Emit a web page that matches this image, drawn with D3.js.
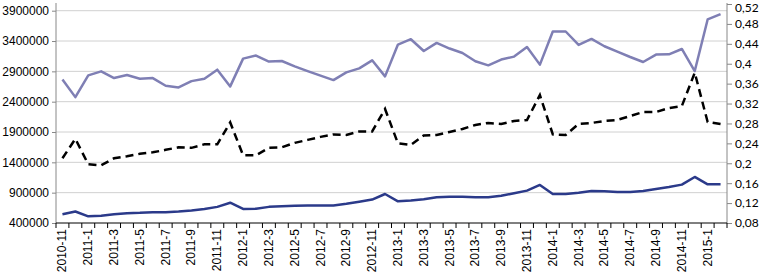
<!DOCTYPE html>
<html>
<head>
<meta charset="utf-8">
<script src="https://cdn.jsdelivr.net/npm/d3@7"></script>
<style>
  body { margin: 0; background: #fff; }
  .axis text { font-family: "Liberation Sans", Arial, sans-serif; font-size: 12px; fill: #000; }
  .axis-right text { font-family: Lato, "Open Sans", sans-serif; font-size: 12px; fill: #000; }
</style>
</head>
<body>
<div id="chart"></div>
<script>
// months 2010-11 .. 2015-2
const months = [];
for (let y = 2010, m = 11; y < 2015 || (y === 2015 && m <= 2); ) {
    months.push(y + "-" + m);
    m++;
    if (m > 12) { m = 1; y++; }
}

// light purple line (left axis)
const purpleValues = [2767000, 2475000, 2834000, 2900000, 2789000, 2839000, 2779000, 2789000, 2663000, 2635000,
    2739000, 2779000, 2928000, 2652000, 3110000, 3160000, 3061000, 3071000, 2983000, 2905000,
    2829000, 2756000, 2883000, 2950000, 3082000, 2817000, 3342000, 3430000, 3236000, 3369000,
    3276000, 3203000, 3066000, 2999000, 3094000, 3143000, 3302000, 3011000, 3557000, 3557000,
    3335000, 3435000, 3314000, 3226000, 3137000, 3054000, 3176000, 3181000, 3269000, 2905000,
    3756000, 3844000];

// dark blue line (left axis)
const blueValues = [545000, 590000, 510000, 521000, 545000, 562000, 567000, 579000, 579000, 590000,
    607000, 631000, 666000, 734000, 631000, 636000, 666000, 676000, 683000, 688000,
    688000, 688000, 717000, 752000, 786000, 878000, 757000, 769000, 791000, 826000,
    831000, 831000, 826000, 826000, 848000, 890000, 934000, 1028000, 878000, 878000,
    900000, 929000, 924000, 912000, 912000, 929000, 959000, 993000, 1033000, 1159000,
    1038000, 1038000];

// black dashed line (right axis)
const ratioValues = [0.210, 0.249, 0.198, 0.196, 0.210, 0.214, 0.219, 0.222, 0.227, 0.232,
    0.231, 0.238, 0.238, 0.282, 0.216, 0.216, 0.231, 0.232, 0.241, 0.247,
    0.253, 0.258, 0.257, 0.264, 0.264, 0.309, 0.240, 0.237, 0.256, 0.257,
    0.263, 0.269, 0.277, 0.281, 0.279, 0.285, 0.287, 0.337, 0.258, 0.257,
    0.279, 0.281, 0.285, 0.287, 0.295, 0.303, 0.303, 0.311, 0.315, 0.382,
    0.283, 0.279];

const leftTicks = [400000, 900000, 1400000, 1900000, 2400000, 2900000, 3400000, 3900000];
const rightTicks = [0.08, 0.12, 0.16, 0.2, 0.24, 0.28, 0.32, 0.36, 0.4, 0.44, 0.48, 0.52];

const width = 759, height = 275;
const plotLeft = 56, plotRight = 727, plotTop = 3, plotBottom = 223;

const svg = d3.select("#chart").append("svg")
    .attr("width", width)
    .attr("height", height);

// scales
const x = d3.scaleBand().domain(months).range([plotLeft, plotRight]);
const yLeft = d3.scaleLinear().domain([400000, 3900000]).range([plotBottom, 10.7]);
const yRight = d3.scaleLinear().domain([0.08, 0.52]).range([plotBottom, 4]);

// gridlines
svg.append("g")
    .selectAll("line")
    .data(leftTicks.slice(1))
    .enter()
    .append("line")
    .attr("x1", plotLeft)
    .attr("x2", plotRight)
    .attr("y1", d => yLeft(d))
    .attr("y2", d => yLeft(d))
    .attr("stroke", "#d0d0d0")
    .attr("stroke-width", 1);

// left axis
const leftAxis = svg.append("g")
    .attr("class", "axis")
    .attr("transform", `translate(${plotLeft},0)`)
    .call(d3.axisLeft(yLeft).tickValues(leftTicks).tickSize(4).tickPadding(3).tickFormat(d3.format("d")));
leftAxis.select(".domain").attr("d", `M0,${plotTop}V${plotBottom}`).attr("stroke", "#888");
leftAxis.selectAll(".tick line").attr("stroke", "#888");

// right axis
const rightAxis = svg.append("g")
    .attr("class", "axis-right")
    .attr("transform", `translate(${plotRight},0)`)
    .call(d3.axisRight(yRight).tickValues(rightTicks).tickSize(5).tickPadding(3)
        .tickFormat(d => String(+d.toFixed(2)).replace(".", ",")));
rightAxis.select(".domain").attr("d", `M0,${plotTop}V${plotBottom}`).attr("stroke", "#888");
rightAxis.selectAll(".tick line").attr("stroke", "#888");
// keep the top label inside the window
rightAxis.selectAll(".tick text").filter(d => d === 0.52).attr("y", 4);

// bottom axis
const xAxis = svg.append("g")
    .attr("class", "axis")
    .attr("transform", `translate(0,${plotBottom})`);
xAxis.append("line")
    .attr("x1", plotLeft).attr("x2", plotRight)
    .attr("stroke", "#000");
xAxis.selectAll(".xtick")
    .data(months.concat([null]))
    .enter()
    .append("line")
    .attr("class", "xtick")
    .attr("x1", (d, i) => plotLeft + i * x.step())
    .attr("x2", (d, i) => plotLeft + i * x.step())
    .attr("y1", 0)
    .attr("y2", 5)
    .attr("stroke", "#000");
xAxis.selectAll("text")
    .data(months.filter((d, i) => i % 2 === 0))
    .enter()
    .append("text")
    .text(d => d)
    .attr("text-anchor", "end")
    .attr("transform", d => `translate(${x(d) + x.bandwidth() / 2 + 4},6)rotate(-90)`);

// lines
const cx = (d, i) => x(months[i]) + x.bandwidth() / 2;

svg.append("path")
    .datum(purpleValues)
    .attr("fill", "none")
    .attr("stroke", "#7f7fb4")
    .attr("stroke-width", 2.5)
    .attr("stroke-linejoin", "round")
    .attr("d", d3.line().x(cx).y(d => yLeft(d)));

svg.append("path")
    .datum(ratioValues)
    .attr("fill", "none")
    .attr("stroke", "#000")
    .attr("stroke-width", 2.5)
    .attr("stroke-dasharray", "8,5")
    .attr("d", d3.line().x(cx).y(d => yRight(d)));

svg.append("path")
    .datum(blueValues)
    .attr("fill", "none")
    .attr("stroke", "#2b3a8a")
    .attr("stroke-width", 2.5)
    .attr("stroke-linejoin", "round")
    .attr("d", d3.line().x(cx).y(d => yLeft(d)));
</script>
</body>
</html>
